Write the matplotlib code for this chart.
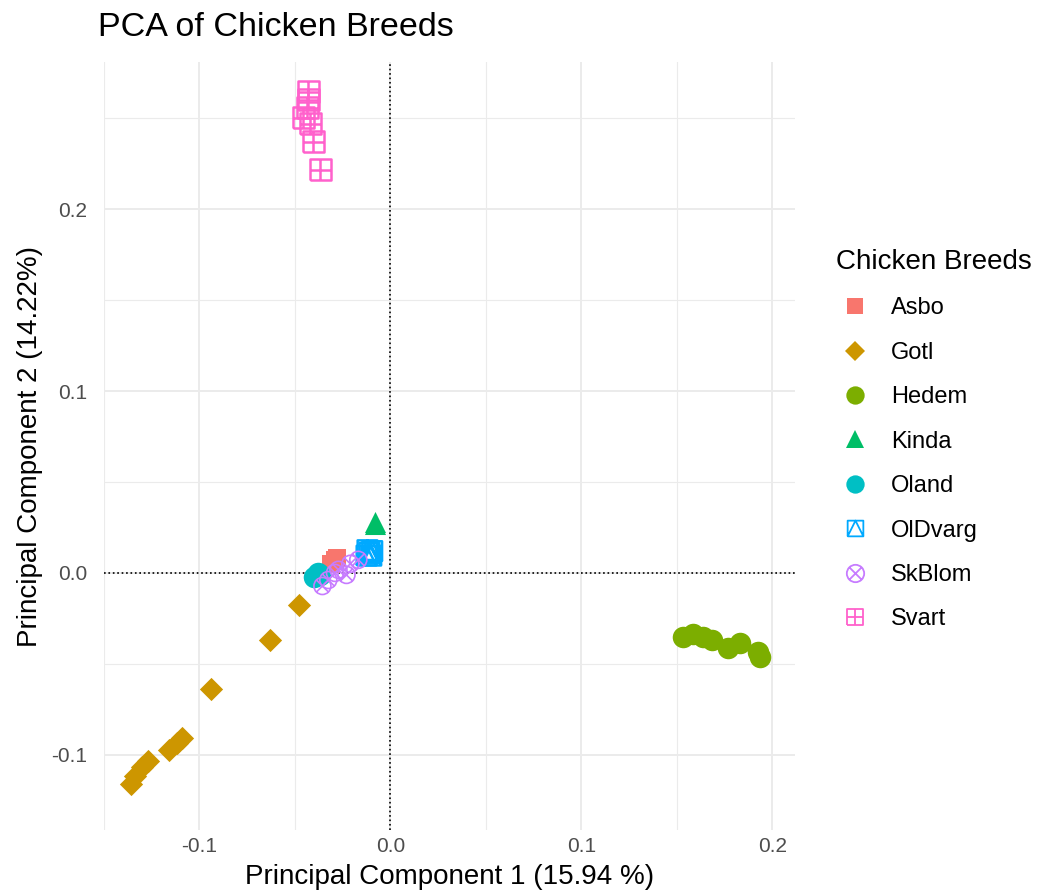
import numpy as np
import matplotlib
matplotlib.use("Agg")
import matplotlib.pyplot as plt
from matplotlib.path import Path
from matplotlib.lines import Line2D

plt.rcParams['font.family'] = ['Liberation Sans', 'DejaVu Sans']

breeds = ["Asbo", "Gotl", "Hedem", "Kinda", "Oland", "OlDvarg", "SkBlom", "Svart"]
colors = ["#F8766D", "#CD9600", "#7CAE00", "#00BE67", "#00BFC4", "#00A9FF", "#C77CFF", "#FF61CC"]

asbo_x = [-0.031, -0.029, -0.028]
asbo_y = [0.005, 0.007, 0.008]
gotl_x = [-0.048, -0.063, -0.094, -0.109, -0.112, -0.116, -0.127, -0.130, -0.134, -0.136]
gotl_y = [-0.0176, -0.037, -0.064, -0.0908, -0.0936, -0.0974, -0.1035, -0.107, -0.1117, -0.116]
hedem_x = [0.1535, 0.1587, 0.164, 0.1687, 0.177, 0.1833, 0.1928, 0.1938]
hedem_y = [-0.0352, -0.0336, -0.0352, -0.0369, -0.0413, -0.0385, -0.0435, -0.0462]
kinda_x = [-0.008, -0.0078]
kinda_y = [0.027, 0.028]
oland_x = [-0.040, -0.038, -0.037]
oland_y = [-0.002, 0.000, -0.001]
oldvarg_x = [-0.0125, -0.011, -0.0095, -0.012, -0.010]
oldvarg_y = [0.0095, 0.011, 0.012, 0.0125, 0.0095]
skblom_x = [-0.023, -0.0356, -0.0272, -0.0325, -0.021, -0.0168, -0.029]
skblom_y = [-0.0011, -0.0072, 0.0017, -0.0039, 0.005, 0.0072, 0.000]
svart_x = [-0.043, -0.043, -0.0435, -0.0456, -0.042, -0.0403, -0.0367]
svart_y = [0.2647, 0.2603, 0.2559, 0.2504, 0.2471, 0.2372, 0.2218]

xs = [asbo_x, gotl_x, hedem_x, kinda_x, oland_x, oldvarg_x, skblom_x, svart_x]
ys = [asbo_y, gotl_y, hedem_y, kinda_y, oland_y, oldvarg_y, skblom_y, svart_y]

# custom hollow markers (R shapes 12, 13, 14)
M, L = Path.MOVETO, Path.LINETO
sq = [(-1, -1), (1, -1), (1, 1), (-1, 1), (-1, -1)]
sq_codes = [M, L, L, L, L]
square_plus = Path(sq + [(0, -1), (0, 1), (-1, 0), (1, 0)],
                   sq_codes + [M, L, M, L])
square_tri = Path(sq + [(-1, -1), (0, 1), (1, -1)],
                  sq_codes + [M, L, L])
circ = Path.unit_circle()
d = 0.7071
xlines = Path([(-d, -d), (d, d), (-d, d), (d, -d)], [M, L, M, L])
circle_x = Path.make_compound_path(circ, xlines)

markers = ['s', 'D', 'o', '^', 'o', square_tri, circle_x, square_plus]
filled = [True, True, True, True, True, False, False, False]
sizes = [180, 140, 240, 230, 240, 200, 150, 230]
lwidths = [0, 0, 0, 0, 0, 1.8, 1.2, 1.8]
leg_sizes = [11.4, 10.1, 13.2, 12.9, 13.2, 11.3, 12.5, 12.1]

fig = plt.figure(figsize=(10.38, 8.94), dpi=100)
ax = fig.add_axes([0.1002, 0.0716, 0.666, 0.859])

handles = []
for b, c, m, f, s, lw, ls, x, y in zip(breeds, colors, markers, filled, sizes, lwidths, leg_sizes, xs, ys):
    if f:
        ax.scatter(x, y, marker=m, s=s, color=c, linewidths=0, zorder=3)
        h = Line2D([], [], linestyle='none', marker=m, markersize=ls,
                   markerfacecolor=c, markeredgecolor=c, markeredgewidth=0)
    else:
        ax.scatter(x, y, marker=m, s=s, facecolors='none', edgecolors=c, linewidths=lw, zorder=3)
        h = Line2D([], [], linestyle='none', marker=m, markersize=ls,
                   markerfacecolor='none', markeredgecolor=c, markeredgewidth=1.3)
    handles.append(h)

ax.axhline(0, color='black', linestyle=':', linewidth=1.2, zorder=2)
ax.axvline(0, color='black', linestyle=':', linewidth=1.2, zorder=2)

ax.set_xlim(-0.1498, 0.2121)
ax.set_ylim(-0.1414, 0.281)
ax.set_xticks([-0.1, 0.0, 0.1, 0.2])
ax.set_xticklabels(["-0.1", "0.0", "0.1", "0.2"])
ax.set_yticks([-0.1, 0.0, 0.1, 0.2])
ax.set_yticklabels(["-0.1", "0.0", "0.1", "0.2"])
ax.set_xticks([-0.15, -0.05, 0.05, 0.15], minor=True)
ax.set_yticks([-0.05, 0.05, 0.15, 0.25], minor=True)
ax.grid(True, which='major', color='#EBEBEB', linewidth=1.4, zorder=0)
ax.grid(True, which='minor', color='#EBEBEB', linewidth=0.8, zorder=0)
ax.set_axisbelow(True)
for sp in ax.spines.values():
    sp.set_visible(False)
ax.tick_params(which='both', length=0, labelsize=15, labelcolor='#4D4D4D')
ax.tick_params(axis='y', pad=12)
ax.tick_params(axis='x', pad=5)

ax.set_xlabel("Principal Component 1 (15.94 %)", fontsize=20, labelpad=6)
ax.set_ylabel("Principal Component 2 (14.22%)", fontsize=20, labelpad=6)
fig.text(98 / 1038, 1 - 28 / 894, "PCA of Chicken Breeds", fontsize=24.5, va='center', ha='left')

leg = fig.legend(handles, breeds, loc='upper left', bbox_to_anchor=(0.8054, 0.7215),
                 frameon=False, title="Chicken Breeds", fontsize=17,
                 title_fontsize=20, labelspacing=0.95, handletextpad=0.73,
                 handlelength=1.6, alignment='left', borderpad=0, borderaxespad=0)

fig.savefig("out.png", dpi=100)
